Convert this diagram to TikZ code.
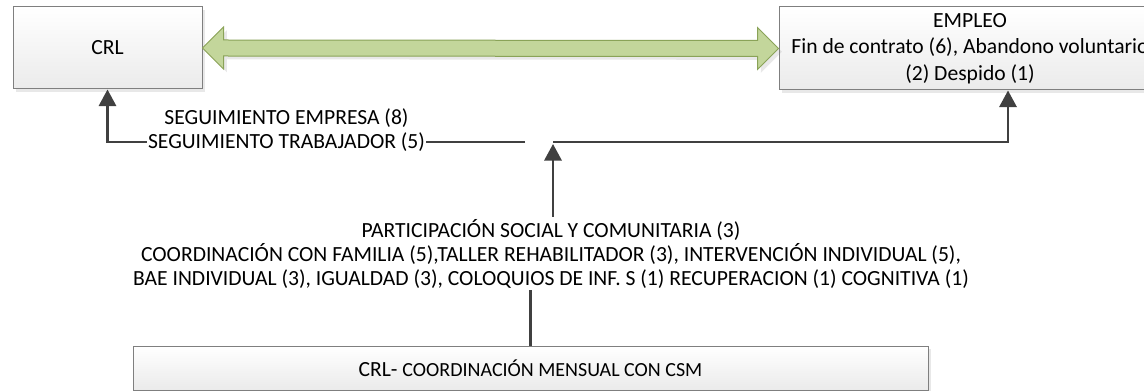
\documentclass[tikz,border=0pt]{standalone}
\usepackage{fontspec}
\setmainfont{Carlito}
\usetikzlibrary{arrows.meta,shadows,calc}
\definecolor{lineclr}{HTML}{404040}
\definecolor{boxborder}{HTML}{7F7F7F}
\definecolor{arrfill}{HTML}{C3D69B}
\definecolor{arrdraw}{HTML}{8AA358}
\tikzset{
  box/.style={draw=boxborder, line width=0.75pt, top color=white, bottom color=black!8,
    drop shadow={opacity=0.18, shadow xshift=2.5pt, shadow yshift=-2.5pt},
    inner sep=0pt, align=center, font=\fontsize{16.2}{20}\selectfont},
  conn/.style={draw=lineclr, line width=1.8pt},
  arr/.style={conn, -{Triangle[length=12.5pt,width=13pt]}},
  lbl/.style={font=\fontsize{16.2}{18}\selectfont, align=center, inner sep=1pt},
  blockarrow/.style={fill=arrfill, draw=arrdraw, line width=0.75pt, line join=miter,
    drop shadow={opacity=0.18, shadow xshift=2.5pt, shadow yshift=-2.5pt}},
}
\begin{document}
\begin{tikzpicture}[x=0.75pt,y=-0.75pt]
\useasboundingbox (0,0) rectangle (1144,391);
\clip (0,0) rectangle (1144,391);
\fill[white] (0,0) rectangle (1144,391);

% boxes
\node[box, minimum width=141.75pt, minimum height=61.5pt] (crl) at (107.5,48) {CRL};
\node[box, minimum width=286.5pt, minimum height=62.25pt] (empleo) at (970,48.5)
  {EMPLEO\\Fin de contrato (6), Abandono voluntario\\(2) Despido (1)};
\node[box, minimum width=596.25pt, minimum height=33pt] (csm) at (530.5,368)
  {{\fontsize{16.2}{18}\selectfont CRL-} {\fontsize{15}{16}\selectfont COORDINACIÓN MENSUAL CON CSM}};

% green double block arrow
\path[blockarrow] (crl.east) -- ($(crl.east)+(21,-21)$) -- ($(crl.east)+(21,-8)$)
  -- ($(empleo.west)+(-21,-8)$) -- ($(empleo.west)+(-21,-21)$) -- (empleo.west)
  -- ($(empleo.west)+(-21,21)$) -- ($(empleo.west)+(-21,8)$)
  -- ($(crl.east)+(21,8)$) -- ($(crl.east)+(21,21)$) -- cycle;

% junction coordinates
\coordinate (j1) at (525,142);
\coordinate (j2) at (553,142);

% left connector to CRL
\draw[arr] (j1) -| (crl.south);
\node[lbl, fill=white] (seg) at (286.5,130) {SEGUIMIENTO EMPRESA (8)\\SEGUIMIENTO TRABAJADOR (5)};

% right connector to EMPLEO
\draw[arr] (j2) -| ($(empleo.south)+(38,0)$);

% activities text
\node[lbl] (part) at (551,254) {PARTICIPACIÓN SOCIAL Y COMUNITARIA (3)\\
COORDINACIÓN CON FAMILIA (5),TALLER REHABILITADOR (3), INTERVENCIÓN INDIVIDUAL (5),\\
BAE INDIVIDUAL (3), IGUALDAD (3), COLOQUIOS DE INF. S (1) RECUPERACION (1) COGNITIVA (1)};

\coordinate (ptop) at (553,217);
\draw[arr] (ptop) -- ($(j2)+(0,2)$);

% line from bottom box
\draw[conn] (csm.north) -- (csm.north |- part.south);
\end{tikzpicture}
\end{document}
